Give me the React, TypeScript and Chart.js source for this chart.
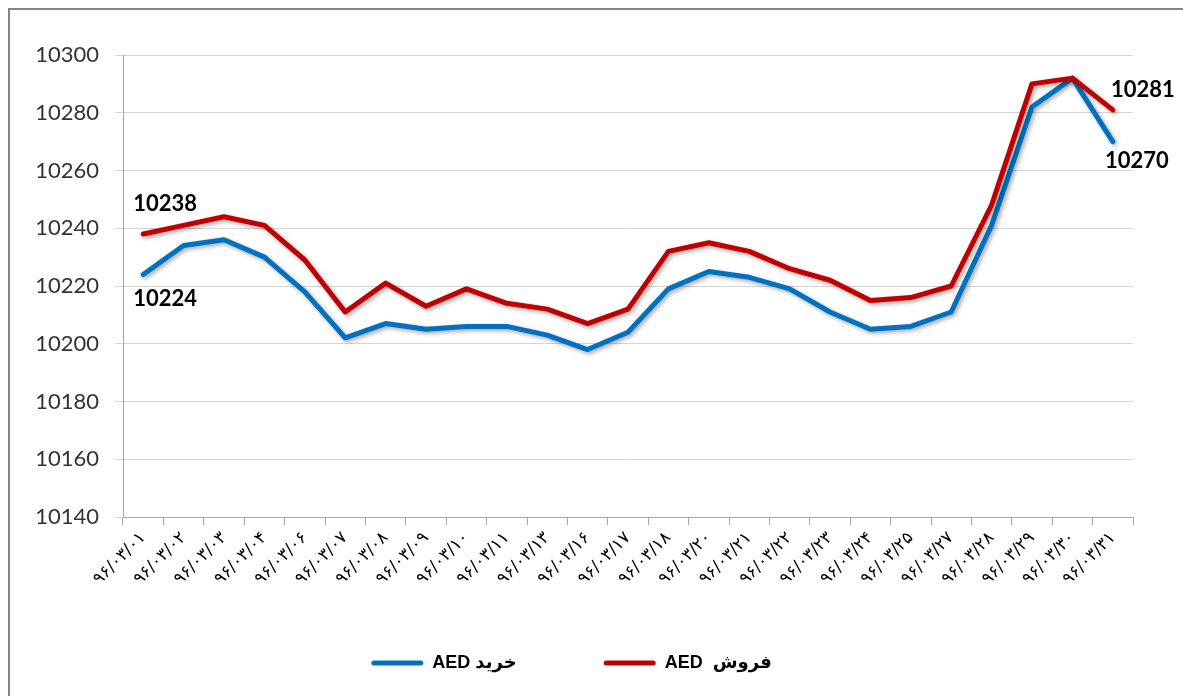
import React, { useEffect, useRef } from "react";
import { Chart, registerables } from "chart.js";

Chart.register(...registerables);

// ---- data ----
const dates = [
  "۹۶/۰۳/۰۱", "۹۶/۰۳/۰۲", "۹۶/۰۳/۰۳", "۹۶/۰۳/۰۴", "۹۶/۰۳/۰۶",
  "۹۶/۰۳/۰۷", "۹۶/۰۳/۰۸", "۹۶/۰۳/۰۹", "۹۶/۰۳/۱۰", "۹۶/۰۳/۱۱",
  "۹۶/۰۳/۱۳", "۹۶/۰۳/۱۶", "۹۶/۰۳/۱۷", "۹۶/۰۳/۱۸", "۹۶/۰۳/۲۰",
  "۹۶/۰۳/۲۱", "۹۶/۰۳/۲۲", "۹۶/۰۳/۲۳", "۹۶/۰۳/۲۴", "۹۶/۰۳/۲۵",
  "۹۶/۰۳/۲۷", "۹۶/۰۳/۲۸", "۹۶/۰۳/۲۹", "۹۶/۰۳/۳۰", "۹۶/۰۳/۳۱",
];

const buyValues = [
  10224, 10234, 10236, 10230, 10218, 10202, 10207, 10205, 10206, 10206,
  10203, 10198, 10204, 10219, 10225, 10223, 10219, 10211, 10205, 10206,
  10211, 10241, 10282, 10292, 10270,
];

const sellValues = [
  10238, 10241, 10244, 10241, 10229, 10211, 10221, 10213, 10219, 10214,
  10212, 10207, 10212, 10232, 10235, 10232, 10226, 10222, 10215, 10216,
  10220, 10248, 10290, 10292, 10281,
];

const yMin = 10140;
const yMax = 10300;
const yStep = 20;

const buyLabel = "AED خرید";
const sellLabel = "AED  فروش";

const BLUE = "#0070C0";
const RED = "#C00000";

// value labels shown on the first and last points (dataset index, point index, offset)
const valueLabels = [
  { ds: 1, idx: 0, dx: 22, dy: -23 },
  { ds: 0, idx: 0, dx: 22, dy: 32 },
  { ds: 1, idx: dates.length - 1, dx: 30, dy: -13 },
  { ds: 0, idx: dates.length - 1, dx: 24, dy: 26 },
];

const decorPlugin = {
  id: "decor",
  beforeDatasetsDraw(chart: any) {
    const ctx = chart.ctx;
    ctx.save();
    ctx.shadowColor = "rgba(0,0,0,0.35)";
    ctx.shadowBlur = 4;
    ctx.shadowOffsetX = 2;
    ctx.shadowOffsetY = 2;
  },
  afterDatasetsDraw(chart: any) {
    const ctx = chart.ctx;
    ctx.restore();
    ctx.save();
    ctx.font = "bold 22px Lato, 'Liberation Sans', sans-serif";
    ctx.fillStyle = "#000";
    ctx.textAlign = "center";
    ctx.textBaseline = "alphabetic";
    valueLabels.forEach((l) => {
      const meta = chart.getDatasetMeta(l.ds);
      const pt = meta.data[l.idx];
      if (!pt) return;
      const v = chart.data.datasets[l.ds].data[l.idx];
      ctx.fillText(String(v), pt.x + l.dx, pt.y + l.dy);
    });
    ctx.restore();
  },
};

export default function App() {
  const ref = useRef<HTMLCanvasElement | null>(null);

  useEffect(() => {
    if (!ref.current) return;
    const chart = new Chart(ref.current, {
      type: "line",
      data: {
        labels: dates,
        datasets: [
          {
            label: buyLabel,
            data: buyValues,
            borderColor: BLUE,
            backgroundColor: BLUE,
            borderWidth: 5,
            pointRadius: 0,
            tension: 0,
            borderCapStyle: "round",
            borderJoinStyle: "round",
            order: 2,
          },
          {
            label: sellLabel,
            data: sellValues,
            borderColor: RED,
            backgroundColor: RED,
            borderWidth: 5,
            pointRadius: 0,
            tension: 0,
            borderCapStyle: "round",
            borderJoinStyle: "round",
            order: 1,
          },
        ],
      },
      options: {
        responsive: false,
        animation: false,
        layout: { padding: { top: 45, right: 50, bottom: 14, left: 0 } },
        plugins: {
          tooltip: { enabled: false },
          legend: {
            position: "bottom",
            labels: {
              boxWidth: 52,
              boxHeight: 5,
              padding: 13,
              useBorderRadius: true,
              color: "#000",
              font: { family: "'Liberation Sans', 'DejaVu Sans', sans-serif", size: 18, weight: "bold" },
              generateLabels: (c: any) => {
                const ds = c.data.datasets;
                const item = (i: number) => ({
                  text: ds[i].label,
                  fillStyle: ds[i].borderColor,
                  strokeStyle: ds[i].borderColor,
                  fontColor: "#000",
                  lineWidth: 0,
                  hidden: false,
                  borderRadius: 2.5,
                  datasetIndex: i,
                });
                return [
                  item(0),
                  {
                    text: "",
                    fillStyle: "rgba(0,0,0,0)",
                    strokeStyle: "rgba(0,0,0,0)",
                    fontColor: "#000",
                    lineWidth: 0,
                    hidden: false,
                    borderRadius: 0,
                  },
                  item(1),
                ];
              },
            },
          },
        },
        scales: {
          x: {
            type: "category",
            offset: true,
            afterFit: (s: any) => {
              s.height = 124;
            },
            grid: {
              offset: true,
              drawOnChartArea: false,
              drawTicks: true,
              tickLength: 8,
              color: "#a6a6a6",
            },
            border: { color: "#a6a6a6", width: 1 },
            ticks: {
              autoSkip: false,
              minRotation: 45,
              maxRotation: 45,
              padding: 3,
              color: "#000",
              font: { family: "'DejaVu Sans', sans-serif", size: 17 },
            },
          },
          y: {
            min: yMin,
            max: yMax,
            afterFit: (s: any) => {
              s.width = 113;
            },
            grid: {
              color: "#d4d4d4",
              tickLength: 8,
              drawTicks: true,
            },
            border: { color: "#a6a6a6", width: 1 },
            ticks: {
              stepSize: yStep,
              padding: 16,
              color: "#333",
              callback: (v: any) => String(v),
              font: { family: "Lato, 'Liberation Sans', sans-serif", size: 22 },
            },
          },
        },
      },
      plugins: [decorPlugin],
    } as any);
    return () => chart.destroy();
  }, []);

  return (
    <div
      style={{
        position: "fixed",
        left: 8,
        top: 8,
        borderLeft: "2px solid #868686",
        borderTop: "2px solid #868686",
        background: "#fff",
      }}
    >
      <canvas ref={ref} width={1173} height={686} style={{ display: "block" }} />
    </div>
  );
}
